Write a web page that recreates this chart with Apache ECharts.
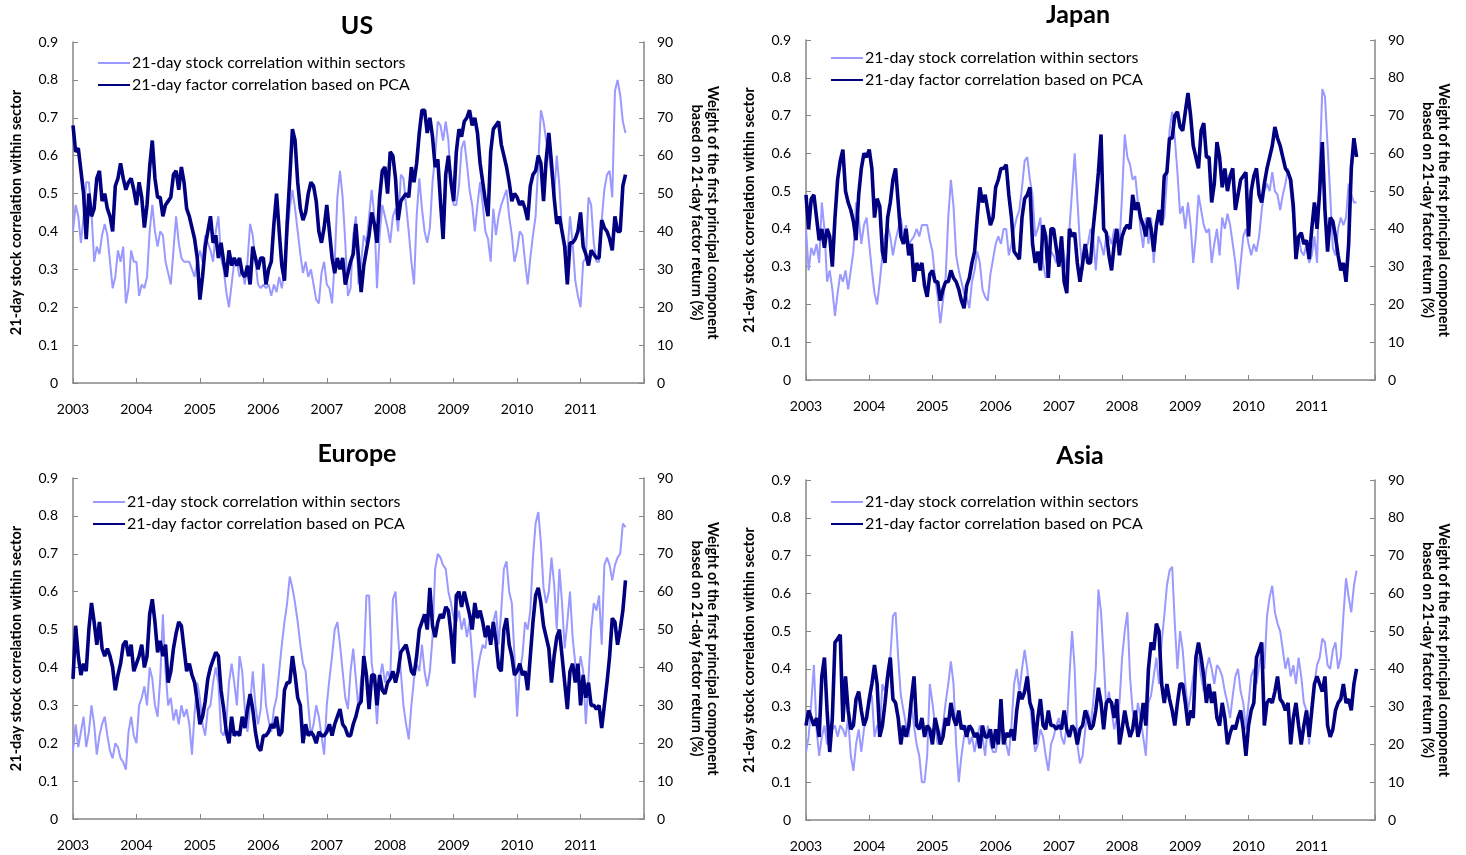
<!DOCTYPE html>
<html>
<head>
<meta charset="utf-8">
<script src="https://cdn.jsdelivr.net/npm/echarts@6/dist/echarts.min.js"></script>
<style>
  html, body { margin: 0; padding: 0; background: #fff; }
  #chart { width: 1466px; height: 855px; }
</style>
</head>
<body>
<div id="chart"></div>
<script>
const startYear = 2003
const step = 1 / 24
const yearTicks = [2003, 2004, 2005, 2006, 2007, 2008, 2009, 2010, 2011]

const stockName = '21-day stock correlation within sectors'
const factorName = '21-day factor correlation based on PCA'

// US
const usStock = [
  0.40,0.47,0.44,0.37,0.44,0.53,0.53,0.45,0.32,0.36,0.34,0.39,0.42,0.39,0.32,0.25,0.28,0.35,0.32,0.36,
  0.21,0.25,0.35,0.32,0.32,0.23,0.26,0.25,0.28,0.40,0.47,0.40,0.36,0.40,0.39,0.32,0.29,0.26,0.35,0.44,
  0.37,0.33,0.32,0.32,0.32,0.30,0.28,0.32,0.35,0.32,0.39,0.37,0.35,0.32,0.40,0.44,0.33,0.30,0.24,0.20,
  0.26,0.32,0.32,0.28,0.30,0.26,0.32,0.42,0.39,0.32,0.26,0.25,0.26,0.25,0.26,0.23,0.26,0.24,0.28,0.25,
  0.30,0.39,0.46,0.51,0.46,0.40,0.34,0.29,0.32,0.28,0.30,0.26,0.22,0.21,0.29,0.32,0.26,0.25,0.21,0.32,
  0.49,0.56,0.49,0.37,0.23,0.25,0.39,0.44,
  0.26,0.32,0.39,0.37,0.44,0.51,0.44,0.25,0.39,0.47,0.44,0.41,0.37,0.44,0.46,0.40,0.55,0.54,0.47,0.40,
  0.32,0.26,0.44,0.54,0.46,0.40,0.37,0.41,0.53,0.60,0.69,0.68,0.64,0.69,0.64,0.52,0.47,0.47,0.52,0.62,
  0.64,0.58,0.51,0.47,0.40,0.47,0.53,0.47,0.40,0.38,0.32,0.46,0.39,0.44,0.47,0.49,0.51,0.44,0.39,0.32,
  0.35,0.40,0.39,0.32,0.26,0.33,0.39,0.44,0.58,0.72,0.69,0.64,0.60,0.55,0.49,0.60,0.52,0.40,0.37,0.34,
  0.44,0.37,0.27,0.23,0.20,0.32,0.33,0.49,0.47,0.37,0.32,0.32,0.43,0.51,0.55,0.56,0.49,0.77,0.80,0.76,
  0.69,0.66
]
const usFactor = [
  68,61,62,56,50,38,50,44,46,54,56,48,50,46,44,40,52,54,58,54,
  51,53,54,51,47,53,49,41,47,57,64,54,49,49,44,47,48,49,55,56,
  51,57,53,46,44,41,38,33,22,28,36,40,44,37,39,33,37,32,28,35,
  31,33,31,33,29,28,31,26,36,33,30,33,33,26,30,32,42,50,40,31,
  27,42,54,67,64,53,46,43,45,50,53,52,48,40,37,41,47,40,33,29,
  33,30,33,26,29,32,34,42,
  33,24,31,35,39,45,42,37,49,56,57,50,61,60,54,43,48,49,50,49,
  57,53,58,66,72,72,66,70,65,57,59,48,38,55,60,53,48,61,67,65,
  69,70,72,68,70,66,58,53,48,44,61,67,68,69,63,60,57,53,48,50,
  49,47,48,46,43,52,55,56,60,58,48,59,66,58,49,42,44,40,36,26,
  37,37,38,40,45,36,34,31,35,34,33,33,43,41,40,38,35,44,40,40,
  52,55
]

// Japan
const jpStock = [
  0.40,0.29,0.35,0.33,0.36,0.31,0.47,0.40,0.26,0.29,0.24,0.17,0.23,0.28,0.26,0.29,0.24,0.29,0.34,0.47,
  0.43,0.36,0.41,0.43,0.36,0.29,0.23,0.20,0.26,0.33,0.38,0.41,0.38,0.33,0.37,0.40,0.43,0.38,0.41,0.36,
  0.37,0.38,0.40,0.38,0.41,0.41,0.41,0.37,0.34,0.27,0.22,0.15,0.21,0.27,0.43,0.53,0.46,0.33,0.29,0.26,
  0.23,0.22,0.19,0.26,0.29,0.34,0.31,0.24,0.22,0.21,0.28,0.32,0.36,0.38,0.36,0.40,0.40,0.33,0.36,0.40,
  0.43,0.45,0.51,0.58,0.59,0.53,0.49,0.38,0.40,0.43,0.31,0.27,0.29,0.34,0.33,0.31,0.33,0.38,0.33,0.29,
  0.40,0.50,0.60,0.48,0.36,0.29,0.35,
  0.36,0.40,0.38,0.29,0.38,0.36,0.33,0.38,0.38,0.36,0.40,0.38,0.36,0.49,0.65,0.59,0.57,0.53,0.54,0.47,
  0.40,0.35,0.43,0.36,0.43,0.31,0.40,0.43,0.41,0.43,0.53,0.66,0.71,0.64,0.55,0.44,0.46,0.40,0.47,0.41,
  0.31,0.38,0.49,0.45,0.41,0.39,0.40,0.31,0.36,0.40,0.33,0.43,0.40,0.44,0.41,0.36,0.31,0.24,0.31,0.38,
  0.40,0.36,0.33,0.36,0.34,0.38,0.45,0.50,0.52,0.50,0.55,0.50,0.49,0.45,0.49,0.52,0.56,0.50,0.43,0.36,
  0.38,0.34,0.33,0.36,0.31,0.33,0.38,0.31,0.57,0.77,0.75,0.62,0.49,0.35,0.33,0.40,0.43,0.41,0.43,0.52,
  0.49,0.47,0.47
]
const jpFactor = [
  49,40,48,49,43,37,40,35,40,38,30,43,53,58,61,50,47,45,42,37,
  49,56,60,59,61,56,43,48,46,34,31,43,47,53,56,47,38,36,40,33,
  36,26,31,29,31,25,22,28,29,26,26,21,24,26,26,29,27,26,24,21,
  19,25,27,31,34,43,51,47,49,45,41,43,51,53,56,56,57,49,43,34,
  33,32,43,48,49,51,36,31,34,29,41,38,27,40,40,35,30,38,26,23,
  40,38,39,31,26,31,36,
  31,31,40,47,55,65,40,39,33,29,36,40,33,38,40,41,40,49,45,47,
  43,41,38,43,40,34,41,45,41,54,55,64,64,70,71,67,66,71,76,70,
  62,59,56,66,68,59,59,47,52,63,59,51,56,50,54,56,45,49,53,54,
  55,38,50,54,56,49,47,52,56,59,62,67,64,62,59,56,55,53,46,32,
  38,39,36,37,32,40,47,40,50,63,45,34,43,42,38,33,29,31,26,36,
  56,64,59
]

// Europe
const euStock = [
  0.18,0.25,0.19,0.23,0.27,0.19,0.23,0.30,0.25,0.17,0.22,0.25,0.27,0.22,0.18,0.16,0.20,0.19,0.16,0.15,
  0.13,0.23,0.27,0.22,0.20,0.30,0.32,0.35,0.30,0.40,0.37,0.30,0.27,0.37,0.54,0.39,0.30,0.32,0.26,0.29,
  0.25,0.30,0.27,0.29,0.25,0.17,0.28,0.36,0.32,0.25,0.22,0.29,0.30,0.36,0.40,0.36,0.23,0.22,0.25,0.36,
  0.41,0.36,0.30,0.43,0.39,0.29,0.23,0.30,0.39,0.30,0.25,0.29,0.41,0.30,0.26,0.23,0.29,0.32,0.39,0.46,
  0.52,0.57,0.64,0.61,0.57,0.52,0.46,0.41,0.39,0.30,0.22,0.25,0.30,0.27,0.22,0.17,0.30,0.37,0.43,0.50,
  0.52,0.46,0.39,0.32,0.29,0.39,0.45,0.37,
  0.29,0.37,0.41,0.59,0.59,0.41,0.36,0.25,0.37,0.41,0.36,0.39,0.37,0.58,0.60,0.48,0.39,0.30,0.25,0.21,
  0.30,0.37,0.41,0.39,0.46,0.39,0.35,0.39,0.48,0.66,0.70,0.69,0.67,0.66,0.60,0.57,0.53,0.52,0.55,0.50,
  0.53,0.48,0.52,0.43,0.32,0.39,0.43,0.46,0.45,0.51,0.48,0.52,0.55,0.46,0.55,0.66,0.68,0.60,0.57,0.43,
  0.27,0.39,0.43,0.52,0.50,0.55,0.69,0.78,0.81,0.73,0.61,0.57,0.60,0.69,0.62,0.50,0.66,0.57,0.45,0.52,
  0.60,0.48,0.41,0.37,0.43,0.39,0.25,0.37,0.50,0.57,0.55,0.59,0.46,0.67,0.69,0.67,0.63,0.67,0.69,0.70,
  0.78,0.77
]
const euFactor = [
  37,51,43,38,41,39,50,57,52,46,52,45,43,45,43,40,34,38,41,46,
  47,43,46,39,41,43,46,40,43,54,58,52,44,47,43,46,36,39,45,49,
  52,51,45,39,41,38,36,31,25,27,31,37,40,42,44,43,34,29,23,20,
  27,22,23,22,27,24,29,33,29,23,19,18,22,22,23,25,24,27,22,23,
  34,36,36,43,38,32,30,20,25,22,23,22,20,23,22,22,23,25,22,25,
  27,29,25,24,22,22,25,27,
  30,31,43,38,29,38,38,30,38,34,33,36,37,39,36,39,44,45,46,43,
  39,38,43,50,52,54,50,61,51,48,52,54,53,56,55,49,41,59,60,56,
  60,57,54,50,57,53,55,52,48,51,46,52,47,40,39,50,53,46,43,38,
  39,41,38,39,34,43,52,59,61,57,51,48,45,36,43,48,50,43,36,29,
  39,41,36,41,30,38,32,36,30,30,29,30,24,30,36,43,53,52,46,50,
  55,63
]

// Asia
const asStock = [
  0.18,0.22,0.31,0.41,0.24,0.17,0.22,0.25,0.20,0.22,0.24,0.25,0.22,0.25,0.24,0.22,0.27,0.17,0.13,0.20,
  0.24,0.18,0.24,0.29,0.31,0.33,0.22,0.25,0.24,0.36,0.34,0.40,0.43,0.54,0.55,0.43,0.33,0.29,0.25,0.22,
  0.31,0.25,0.20,0.17,0.10,0.10,0.17,0.36,0.31,0.25,0.20,0.22,0.25,0.31,0.36,0.42,0.36,0.20,0.10,0.17,
  0.22,0.25,0.20,0.22,0.18,0.22,0.25,0.22,0.17,0.25,0.20,0.18,0.18,0.22,0.25,0.24,0.20,0.17,0.25,0.36,
  0.40,0.34,0.40,0.45,0.40,0.31,0.24,0.18,0.20,0.24,0.22,0.17,0.13,0.20,0.22,0.25,0.27,0.22,0.20,0.25,
  0.38,0.50,0.40,0.20,0.15,0.17,0.24,
  0.29,0.25,0.31,0.40,0.61,0.55,0.43,0.29,0.34,0.29,0.24,0.27,0.31,0.43,0.50,0.55,0.38,0.29,0.25,0.31,
  0.27,0.22,0.17,0.31,0.33,0.38,0.43,0.36,0.47,0.54,0.62,0.66,0.67,0.52,0.40,0.50,0.45,0.36,0.29,0.33,
  0.38,0.43,0.43,0.38,0.34,0.40,0.43,0.40,0.36,0.41,0.40,0.38,0.34,0.31,0.27,0.33,0.38,0.40,0.34,0.31,
  0.24,0.31,0.38,0.40,0.36,0.41,0.45,0.40,0.54,0.59,0.62,0.55,0.52,0.50,0.45,0.40,0.43,0.38,0.41,0.36,
  0.43,0.38,0.31,0.29,0.20,0.31,0.36,0.41,0.43,0.48,0.47,0.41,0.40,0.45,0.47,0.40,0.43,0.54,0.64,0.59,
  0.55,0.62,0.66
]
const asFactor = [
  25,29,27,25,27,22,38,43,29,18,27,47,48,49,26,38,29,24,25,32,
  34,29,25,27,32,36,41,36,22,25,31,38,43,32,31,27,20,25,22,25,
  32,38,25,24,27,22,25,24,20,27,24,20,22,27,25,31,27,25,29,24,
  25,22,25,24,22,23,19,25,22,22,24,19,24,20,32,20,23,22,24,21,
  29,34,32,34,38,31,29,20,27,32,25,24,29,25,25,24,25,24,29,24,
  22,25,24,20,24,25,29,
  27,24,25,29,35,31,24,31,32,31,27,32,20,24,29,25,22,24,29,22,
  25,31,25,40,47,45,52,50,36,31,36,32,29,25,31,36,36,31,25,29,
  27,43,47,43,38,31,36,31,34,27,25,31,27,20,23,25,24,27,29,24,
  17,25,29,31,43,45,47,25,31,32,31,34,38,32,31,29,31,20,27,31,
  25,20,25,29,22,29,36,38,36,34,38,25,22,24,29,31,32,36,31,32,
  29,36,40
]

const panels = [
  { name: 'US',     stock: usStock, factor: usFactor, grid: { left: 73,  top: 42,  width: 571, height: 341 }, titleX: 352,  titleY: 8,   legendX: 97,  legendY: 55 },
  { name: 'Japan',  stock: jpStock, factor: jpFactor, grid: { left: 806, top: 40,  width: 569, height: 340 }, titleX: 1073, titleY: -3,  legendX: 830, legendY: 50 },
  { name: 'Europe', stock: euStock, factor: euFactor, grid: { left: 73,  top: 478, width: 571, height: 341 }, titleX: 352,  titleY: 436, legendX: 92,  legendY: 494 },
  { name: 'Asia',   stock: asStock, factor: asFactor, grid: { left: 806, top: 480, width: 569, height: 340 }, titleX: 1075, titleY: 438, legendX: 830, legendY: 494 }
]

const lightBlue = '#9999ff'
const navy = '#000080'
const axisGrey = '#868686'
const font = 'Lato'

const toPairs = arr => arr.map((v, i) => [startYear + i * step, v])

const axisCommon = {
  axisLine: { show: true, lineStyle: { color: axisGrey, width: 1.5 } },
  axisTick: { show: true, inside: true, length: 5, lineStyle: { color: axisGrey } },
  splitLine: { show: false },
  axisLabel: { color: '#000', fontSize: 14, fontFamily: font }
}

const chart = echarts.init(document.getElementById('chart'))

const option = {
  animation: false,
  backgroundColor: '#fff',
  textStyle: { fontFamily: font },
  title: panels.map(p => ({
    text: p.name,
    left: p.titleX,
    top: p.titleY,
    textAlign: 'center',
    textStyle: { fontSize: 25, fontWeight: 'bold', color: '#000', fontFamily: font }
  })),
  legend: panels.map(p => ({
    left: p.legendX,
    top: p.legendY,
    padding: 0,
    orient: 'vertical',
    itemWidth: 32,
    itemHeight: 12,
    itemGap: 6,
    selectedMode: false,
    itemStyle: { opacity: 0 },
    textStyle: { fontSize: 16, color: '#000', fontFamily: font, padding: [0, 0, 0, -3] },
    data: [stockName, factorName]
  })),
  grid: panels.map(p => p.grid),
  xAxis: panels.map((p, i) => ({
    type: 'value',
    gridIndex: i,
    min: yearTicks[0],
    max: yearTicks[yearTicks.length - 1] + 1,
    interval: 1,
    ...axisCommon,
    axisLabel: {
      ...axisCommon.axisLabel,
      margin: 19,
      formatter: v => (yearTicks.includes(v) ? String(v) : '')
    }
  })),
  yAxis: panels.flatMap((p, i) => [
    {
      type: 'value',
      gridIndex: i,
      position: 'left',
      min: 0,
      max: 0.9,
      interval: 0.1,
      name: '21-day stock correlation within sector',
      nameLocation: 'middle',
      nameGap: 49,
      nameTextStyle: { fontSize: 14.5, fontWeight: 'bold', color: '#000', fontFamily: font },
      ...axisCommon,
      axisLabel: { ...axisCommon.axisLabel, margin: 15, formatter: v => (v === 0 ? '0' : v.toFixed(1)) }
    },
    {
      type: 'value',
      gridIndex: i,
      position: 'right',
      min: 0,
      max: 90,
      interval: 10,
      name: 'Weight of the first principal component\nbased on 21-day factor return (%)',
      nameLocation: 'middle',
      nameRotate: -90,
      nameGap: 45,
      nameTextStyle: { fontSize: 14.5, fontWeight: 'bold', color: '#000', fontFamily: font, lineHeight: 16 },
      ...axisCommon,
      axisLabel: { ...axisCommon.axisLabel, margin: 13 }
    }
  ]),
  series: panels.flatMap((p, i) => [
    {
      name: stockName,
      type: 'line',
      xAxisIndex: i,
      yAxisIndex: 2 * i,
      data: toPairs(p.stock),
      symbol: 'none',
      color: lightBlue,
      lineStyle: { color: lightBlue, width: 2 }
    },
    {
      name: factorName,
      type: 'line',
      xAxisIndex: i,
      yAxisIndex: 2 * i + 1,
      data: toPairs(p.factor),
      symbol: 'none',
      color: navy,
      lineStyle: { color: navy, width: 3.6 }
    }
  ])
}

chart.setOption(option)
</script>
</body>
</html>
